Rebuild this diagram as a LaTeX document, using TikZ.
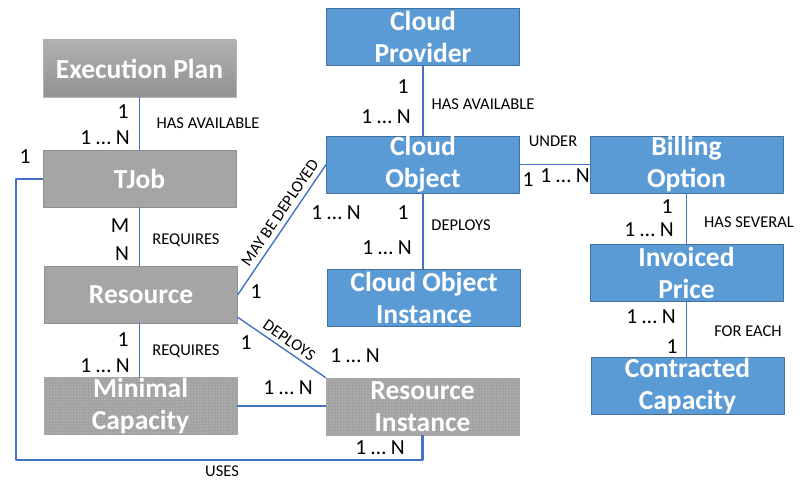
\documentclass[tikz,border=0pt]{standalone}
\usepackage{fontspec}
\setmainfont{Carlito}
\usepackage{tikz}
\usetikzlibrary{patterns}

\definecolor{boxblue}{HTML}{5B9BD5}
\definecolor{boxblueline}{HTML}{41719C}
\definecolor{boxgrey}{HTML}{A5A5A5}
\definecolor{boxgreyline}{HTML}{909090}
\definecolor{linkblue}{HTML}{4472C4}

\tikzset{
  entity/.style={minimum width=193pt,minimum height=57pt,inner sep=0pt,align=center,
    text=white,font=\fontsize{27.5}{32}\selectfont\bfseries},
  cloudbox/.style={entity,fill=boxblue,draw=boxblueline,line width=0.8pt},
  greybox/.style={entity,fill=boxgrey,draw=boxgreyline,line width=0.8pt},
  fadebox/.style={entity,top color=gray!62,bottom color=gray!85,draw=gray!60,line width=0.8pt},
  dotbox/.style={entity,preaction={fill=gray!74},pattern=dots,pattern color=white!80!gray,
    draw=gray!70,line width=0.8pt},
  link/.style={draw=linkblue,line width=1.4pt},
  card/.style={font=\fontsize{21.5}{24}\selectfont,inner sep=0pt},
  rel/.style={font=\fontsize{16.5}{19}\selectfont,inner sep=0pt},
}

\begin{document}
\begin{tikzpicture}[line cap=round,line join=round,x=1pt,y=1pt]
  \useasboundingbox (0,0) rectangle (803,480);

  % tester side
  \node[fadebox] (plan) at (139.5,411.5) {Execution Plan};
  \node[greybox] (tjob) at (139.5,301) {TJob};
  \node[greybox] (res) at (141,185.5) {Resource};
  \node[dotbox] (mincap) at (140.5,74) {Minimal\\Capacity};
  \node[dotbox] (resinst) at (422.5,73.5) {Resource\\Instance};

  % cloud side
  \node[cloudbox] (provider) at (423,443) {Cloud\\Provider};
  \node[cloudbox] (cobj) at (423,315.5) {Cloud\\Object};
  \node[cloudbox] (cinst) at (424,182.5) {Cloud Object\\Instance};
  \node[cloudbox] (billing) at (686.5,315.5) {Billing\\Option};
  \node[cloudbox] (invoiced) at (686.5,207.5) {Invoiced\\Price};
  \node[cloudbox] (contracted) at (687.5,94) {Contracted\\Capacity};

  \coordinate (usescorner) at (16,20);

  \draw[link] (plan.south) -- (tjob.north);
  \draw[link] (tjob.south) -- (res.north -| tjob.south);
  \draw[link] (res.south -| tjob.south) -- (mincap.north -| tjob.south);
  \draw[link] (mincap.east) -- (resinst.west |- mincap.east);
  \draw[link] (res.east) -- node[pos=0.58,sloped,above=5pt,rel] {MAY BE DEPLOYED} (cobj.west);
  \draw[link] ([yshift=6pt]res.south east) -- node[pos=0.52,sloped,above=4pt,rel] {DEPLOYS} (resinst.north west);
  \draw[link] (provider.south) -- (cobj.north);
  \draw[link] (cobj.south) -- (cobj.south |- cinst.north);
  \draw[link] (cobj.east) -- (billing.west);
  \draw[link] (billing.south) -- (invoiced.north);
  \draw[link] (invoiced.south) -- (invoiced.south |- contracted.north);
  \draw[link,line width=2.2pt,line cap=butt] (tjob.west) -| (usescorner) -| (resinst.south);

  % cardinalities
  \foreach \txt/\px/\py in {1/123/368, 1 … N/105/342, 1/25/323, M/120/254, N/122/226,
      1/123/140, 1 … N/105/114, 1/256/188, 1/246/137, 1 … N/355/124, 1 … N/288/92,
      1 … N/380/32, 1 … N/336/267, 1/403/267, 1 … N/387/232, 1/403/393, 1 … N/386/363,
      1/528/300, 1 … N/565/304, 1/667/273, 1 … N/649/250, 1 … N/651/163, 1/672/133}
    \node[card] at (\px,\py) {\txt};

  % relation names
  \node[rel] at (208,357) {HAS AVAILABLE};
  \node[rel] at (186,240) {REQUIRES};
  \node[rel] at (186,129) {REQUIRES};
  \node[rel] at (222,9) {USES};
  \node[rel] at (461,255) {DEPLOYS};
  \node[rel] at (483,376) {HAS AVAILABLE};
  \node[rel] at (553,339) {UNDER};
  \node[rel] at (749,258) {HAS SEVERAL};
  \node[rel] at (748,149) {FOR EACH};
\end{tikzpicture}
\end{document}
